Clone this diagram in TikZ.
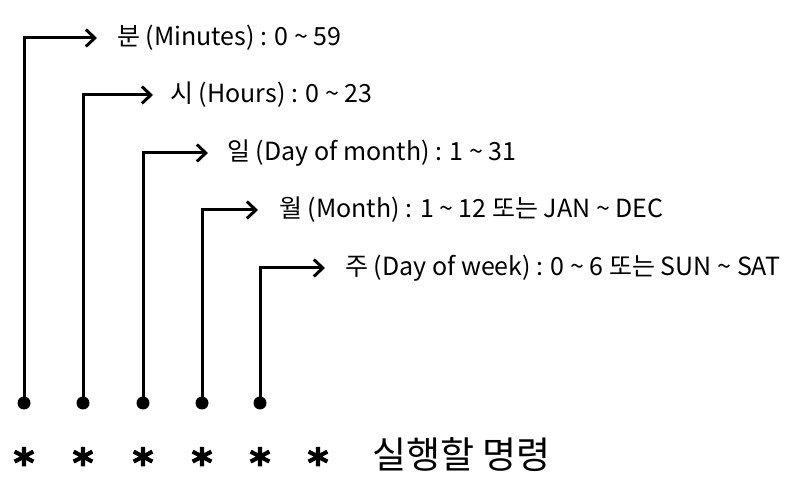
\documentclass[tikz,border=0pt]{standalone}
\usepackage{fontspec}
\setmainfont{Noto Sans CJK KR}
\newfontfamily\starfont[FakeBold=2.5]{DejaVu Sans Bold}
\usetikzlibrary{arrows.meta}
\begin{document}
\begin{tikzpicture}[x=1pt,y=-1pt,
  conn/.style={line width=3pt,-{Straight Barb[length=9pt,width=17pt,line width=3pt]}},
  dotnode/.style={circle,fill=black,inner sep=0pt,minimum size=13pt},
  lbl/.style={anchor=west,inner sep=0pt,font=\fontsize{25}{28}\selectfont},
  starnode/.style={anchor=base,inner sep=0pt,font=\starfont\fontsize{40}{40}\selectfont},
  cmd/.style={anchor=west,inner sep=0pt,font=\fontsize{37}{40}\selectfont}]
\useasboundingbox (0,0) rectangle (796,486);
% dots
\node[dotnode] (d1) at (24,403) {};
\node[dotnode] (d2) at (83,403) {};
\node[dotnode] (d3) at (143,403) {};
\node[dotnode] (d4) at (202,403) {};
\node[dotnode] (d5) at (260,403) {};
% arrow tips
\coordinate (a1) at (97,38);
\coordinate (a2) at (153,95);
\coordinate (a3) at (208,153);
\coordinate (a4) at (258,210);
\coordinate (a5) at (325,268);
% labels
\node[lbl] (l1) at (117,38) {분 (Minutes) : 0 \textasciitilde{} 59};
\node[lbl] (l2) at (170,95) {시 (Hours) : 0 \textasciitilde{} 23};
\node[lbl] (l3) at (227,153) {일 (Day of month) : 1 \textasciitilde{} 31};
\node[lbl] (l4) at (279,210) {월 (Month) : 1 \textasciitilde{} 12 또는 JAN \textasciitilde{} DEC};
\node[lbl] (l5) at (345,268) {주 (Day of week) : 0 \textasciitilde{} 6 또는 SUN \textasciitilde{} SAT};
% connectors
\draw[conn] (d1.center) |- (a1);
\draw[conn] (d2.center) |- (a2);
\draw[conn] (d3.center) |- (a3);
\draw[conn] (d4.center) |- (a4);
\draw[conn] (d5.center) |- (a5);
% stars
\node[starnode] (s1) at (24,477) {*};
\node[starnode] (s2) at (83,477) {*};
\node[starnode] (s3) at (143,477) {*};
\node[starnode] (s4) at (202,477) {*};
\node[starnode] (s5) at (260,477) {*};
\node[starnode] (s6) at (318,477) {*};
\node[cmd] (c) at (372,455) {실행할 명령};
\end{tikzpicture}
\end{document}
